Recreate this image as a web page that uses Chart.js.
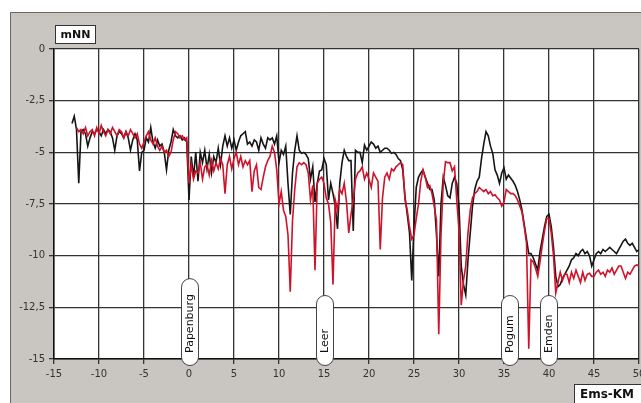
<!DOCTYPE html>
<html><head><meta charset="utf-8">
<script src="https://cdn.jsdelivr.net/npm/chart.js@4"></script>
<style>html,body{margin:0;padding:0;background:#fff;}canvas{display:block;}</style>
</head><body>
<canvas id="c" width="641" height="403"></canvas>
<script>
const km = [
-13,-12.75,-12.5,-12.25, -12,-11.75,-11.5,-11.25, -11,-10.75,-10.5,-10.25, -10,-9.75,-9.5,-9.25,
-9,-8.75,-8.5,-8.25, -8,-7.75,-7.5,-7.25, -7,-6.75,-6.5,-6.25, -6,-5.75,-5.5,-5.25,
-5,-4.75,-4.5,-4.25, -4,-3.75,-3.5,-3.25, -3,-2.75,-2.5,-2.25, -2,-1.75,-1.5,-1.25,
-1,-0.75,-0.5,-0.25, 0,0.25,0.5,0.75, 1,1.25,1.5,1.75, 2,2.25,2.5,2.75,
3,3.25,3.5,3.75, 4,4.25,4.5,4.75, 5,5.25,5.5,5.75, 6,6.25,6.5,6.75,
7,7.25,7.5,7.75, 8,8.25,8.5,8.75, 9,9.25,9.5,9.75, 10,10.25,10.5,10.75,
11,11.25,11.5,11.75, 12,12.25,12.5,12.75, 13,13.25,13.5,13.75, 14,14.25,14.5,14.75,
15,15.25,15.5,15.75, 16,16.25,16.5,16.75, 17,17.25,17.5,17.75, 18,18.25,18.5,18.75,
19,19.25,19.5,19.75, 20,20.25,20.5,20.75, 21,21.25,21.5,21.75, 22,22.25,22.5,22.75,
23,23.25,23.5,23.75, 24,24.25,24.5,24.75, 25,25.25,25.5,25.75, 26,26.25,26.5,26.75,
27,27.25,27.5,27.75, 28,28.25,28.5,28.75, 29,29.25,29.5,29.75, 30,30.25,30.5,30.75,
31,31.25,31.5,31.75, 32,32.25,32.5,32.75, 33,33.25,33.5,33.75, 34,34.25,34.5,34.75,
35,35.25,35.5,35.75, 36,36.25,36.5,36.75, 37,37.25,37.5,37.75, 38,38.25,38.5,38.75,
39,39.25,39.5,39.75, 40,40.25,40.5,40.75, 41,41.25,41.5,41.75, 42,42.25,42.5,42.75,
43,43.25,43.5,43.75, 44,44.25,44.5,44.75, 45,45.25,45.5,45.75, 46,46.25,46.5,46.75,
47,47.25,47.5,47.75, 48,48.25,48.5,48.75, 49,49.25,49.5,49.75, 50
];
const blackSeries = [
-3.6,-3.25,-3.9,-6.5, -4.0,-3.9,-4.1,-4.7, -4.3,-4.0,-4.1,-3.9, -4.0,-4.2,-3.9,-4.1,
-3.9,-4.0,-4.3,-4.9, -4.2,-4.0,-4.1,-4.3, -4.0,-4.3,-4.9,-4.4, -4.1,-4.4,-5.9,-5.0,
-4.9,-4.3,-4.5,-3.8, -4.5,-4.8,-4.4,-4.7, -4.6,-5.0,-5.85,-4.9, -4.5,-3.9,-4.2,-4.3,
-4.2,-4.4,-4.3,-4.5, -7.3,-5.2,-6.2,-5.0, -6.4,-5.0,-5.5,-4.9, -5.8,-5.1,-6.0,-5.2,
-5.5,-4.8,-5.6,-4.7, -4.2,-4.7,-4.3,-4.8, -4.4,-4.9,-4.5,-4.2, -4.1,-4.0,-4.6,-4.5,
-4.7,-4.4,-4.5,-4.9, -4.3,-4.6,-4.8,-4.3, -4.4,-4.3,-4.6,-4.2, -5.5,-4.9,-5.1,-4.7,
-6.5,-8.0,-6.0,-4.9, -4.2,-4.9,-5.05,-5.0, -5.1,-5.3,-6.3,-5.7, -7.4,-6.5,-5.9,-5.85,
-5.3,-5.6,-7.3,-6.5, -7.0,-7.6,-8.7,-6.5, -5.5,-4.9,-5.2,-5.4, -5.4,-8.8,-4.9,-5.0,
-5.0,-5.5,-4.65,-4.9, -4.7,-4.5,-4.6,-4.8, -4.7,-5.0,-4.9,-4.8, -4.8,-4.9,-5.05,-5.0,
-5.1,-5.3,-5.4,-5.85, -7.15,-8.0,-8.9,-11.2, -8.6,-6.7,-6.2,-6.0, -5.85,-6.2,-6.5,-6.8,
-6.8,-7.3,-9.0,-11.0, -7.5,-6.2,-6.6,-7.1, -7.2,-6.5,-6.2,-6.5, -7.6,-10.5,-11.4,-11.9,
-10.2,-8.9,-7.6,-6.8, -6.4,-6.2,-5.3,-4.6, -4.0,-4.2,-4.7,-5.05, -5.85,-6.1,-6.5,-6.0,
-5.75,-6.3,-6.1,-6.25, -6.4,-6.6,-6.9,-7.3, -7.8,-8.5,-9.2,-9.9, -9.9,-10.1,-10.4,-10.7,
-9.8,-9.2,-8.6,-8.1, -8.0,-8.6,-9.6,-11.0, -11.5,-11.4,-11.1,-10.9, -10.7,-10.5,-10.2,-10.1,
-9.9,-10.0,-9.8,-9.7, -9.9,-9.8,-10.0,-10.5, -10.2,-9.9,-9.8,-9.9, -9.7,-9.8,-9.7,-9.6,
-9.7,-9.8,-9.9,-9.7, -9.5,-9.3,-9.2,-9.4, -9.5,-9.4,-9.6,-9.8, -9.7
];
const redSeries = [
null,null,-3.8,-4.0, -3.9,-4.1,-3.8,-4.2, -4.0,-3.9,-4.2,-3.8, -4.1,-3.7,-4.0,-4.2,
-3.9,-4.1,-3.8,-4.0, -4.2,-3.9,-4.0,-4.3, -4.0,-4.2,-3.9,-4.1, -4.3,-4.1,-4.6,-4.8,
-4.5,-4.2,-4.0,-4.4, -4.6,-4.3,-4.7,-4.9, -4.7,-5.0,-4.9,-5.2, -5.0,-4.4,-4.0,-4.1,
-4.3,-4.2,-4.4,-4.3, -6.5,-5.6,-6.3,-5.9, -6.0,-5.5,-6.3,-5.7, -5.6,-6.1,-5.4,-5.9,
-5.5,-5.8,-5.3,-5.6, -7.0,-5.6,-5.2,-5.8, -5.3,-5.0,-5.6,-5.2, -5.7,-5.4,-5.6,-5.4,
-6.9,-5.9,-5.6,-6.7, -6.8,-6.2,-5.7,-5.4, -5.2,-4.7,-5.0,-5.85, -7.5,-6.9,-7.8,-8.1,
-9.0,-11.75,-8.3,-6.8, -5.7,-5.5,-5.6,-5.5, -5.6,-6.0,-7.3,-6.6, -10.7,-6.5,-6.3,-6.2,
-6.5,-7.2,-7.5,-8.4, -11.4,-7.3,-7.8,-6.8, -7.0,-6.5,-7.4,-8.9, -8.0,-7.3,-6.3,-6.0,
-5.9,-5.7,-6.3,-6.0, -6.3,-6.7,-6.0,-6.2, -6.4,-9.7,-7.2,-6.2, -6.0,-6.3,-5.8,-5.9,
-5.7,-5.6,-5.5,-5.6, -7.3,-7.8,-8.6,-9.2, -9.0,-8.2,-7.5,-6.4, -5.85,-6.2,-6.7,-6.6,
-7.0,-7.6,-8.3,-13.8, -9.0,-6.5,-5.45,-5.5, -5.5,-5.9,-5.7,-7.3, -8.8,-12.4,-11.2,-10.5,
-8.9,-7.8,-7.2,-7.0, -6.9,-6.7,-6.8,-6.9, -6.8,-7.0,-6.9,-7.1, -7.05,-7.2,-7.3,-7.6,
-7.4,-6.8,-6.9,-7.0, -7.0,-7.1,-7.3,-7.6, -7.9,-8.6,-9.4,-14.5, -10.2,-10.3,-10.6,-11.0,
-10.3,-9.5,-8.8,-8.2, -8.2,-8.9,-10.0,-11.8, -11.3,-10.8,-11.2,-10.9, -10.9,-11.3,-10.8,-11.1,
-10.7,-11.0,-11.3,-10.8, -11.2,-10.9,-10.85,-11.0, -11.0,-10.8,-10.7,-10.9, -10.8,-11.0,-10.7,-10.8,
-10.6,-10.9,-10.7,-10.5, -10.5,-10.8,-11.1,-10.8, -10.9,-10.7,-10.5,-10.45, -10.5
];
const places = ['Papenburg','Leer','Pogum','Emden'];
const placeKm = [0, 15, 35.6, 39.9];
const yAxisTitle = 'mNN';
const xAxisTitle = 'Ems-KM';

const toPts = arr => km.map((x,i) => ({x:x, y:arr[i]}));

const decor = {
  id:'decor',
  beforeDraw(chart){
    const c = chart.ctx, a = chart.chartArea;
    c.save();
    c.fillStyle = '#fff'; c.fillRect(0,0,chart.width,chart.height);
    c.fillStyle = '#c9c6c2'; c.fillRect(10,12,chart.width-10,chart.height-12);
    c.strokeStyle = '#6a6866'; c.lineWidth = 1;
    c.beginPath(); c.moveTo(10.5,chart.height); c.lineTo(10.5,12.5); c.lineTo(chart.width,12.5); c.stroke();
    c.fillStyle = '#fff'; c.fillRect(a.left,a.top,a.right-a.left,a.bottom-a.top);
    c.restore();
  },
  afterDraw(chart){
    const c = chart.ctx, a = chart.chartArea, xs = chart.scales.x;
    c.save();
    c.font = 'bold 11px "DejaVu Sans"';
    c.textAlign = 'center'; c.textBaseline = 'middle';
    c.fillStyle = '#fff'; c.strokeStyle = '#333'; c.lineWidth = 1;
    c.fillRect(55.5,25.5,40,18); c.strokeRect(55.5,25.5,40,18);
    c.fillStyle = '#111'; c.fillText(yAxisTitle, 75.5, 35);
    c.font = 'bold 12px "DejaVu Sans"';
    c.fillStyle = '#fff';
    c.fillRect(574.5,384.5,70,20); c.strokeRect(574.5,384.5,70,20);
    c.fillStyle = '#111'; c.fillText(xAxisTitle, 607, 395);
    c.font = '11px "DejaVu Sans"';
    places.forEach((name,i) => {
      const x = xs.getPixelForValue(placeKm[i]);
      const w = c.measureText(name).width;
      const h = Math.max(70, w + 28);
      const bottom = a.bottom + 6, top = bottom - h, pw = 17, r = 8.5;
      c.beginPath();
      c.roundRect(Math.round(x - pw/2) + 0.5, top + 0.5, pw, h, r);
      c.fillStyle = '#fff'; c.fill();
      c.strokeStyle = '#444'; c.lineWidth = 1; c.stroke();
      c.save();
      c.translate(Math.round(x) + 1, bottom - 12);
      c.rotate(-Math.PI/2);
      c.textAlign = 'left'; c.textBaseline = 'middle';
      c.fillStyle = '#111';
      c.fillText(name, 0, 0);
      c.restore();
    });
    c.restore();
  }
};

Chart.defaults.font.family = '"DejaVu Sans", sans-serif';
Chart.defaults.font.size = 10;

new Chart(document.getElementById('c'), {
  type: 'line',
  data: {
    datasets: [
      {label:'neu', data: toPts(redSeries), borderColor:'#cf1229', borderWidth:1.6, pointRadius:0, tension:0, spanGaps:false},
      {label:'alt', data: toPts(blackSeries), borderColor:'#151515', borderWidth:1.6, pointRadius:0, tension:0, spanGaps:false}
    ]
  },
  options: {
    responsive:false, animation:false, devicePixelRatio:1,
    layout:{padding:{top:49,right:2,left:0,bottom:0}},
    plugins:{legend:{display:false}, tooltip:{enabled:false}},
    scales:{
      x:{type:'linear', min:-15, max:50,
        ticks:{stepSize:5, color:'#333', padding:4, maxRotation:0, autoSkip:false},
        grid:{color:'#333', lineWidth:1.3, tickLength:5, tickColor:'#333'},
        border:{color:'#111', width:1.5},
        afterFit(s){ s.height = 44; s.paddingLeft = 0; s.paddingRight = 0; }
      },
      y:{type:'linear', min:-15, max:0,
        ticks:{stepSize:2.5, color:'#333', padding:4, callback:v => String(v).replace('.', ',')},
        grid:{color:'#333', lineWidth:1.3, tickLength:5, tickColor:'#333'},
        border:{color:'#111', width:1.5},
        afterFit(s){ s.width = 54; s.paddingTop = 0; s.paddingBottom = 0; }
      }
    }
  },
  plugins:[decor]
});
</script>
</body></html>
